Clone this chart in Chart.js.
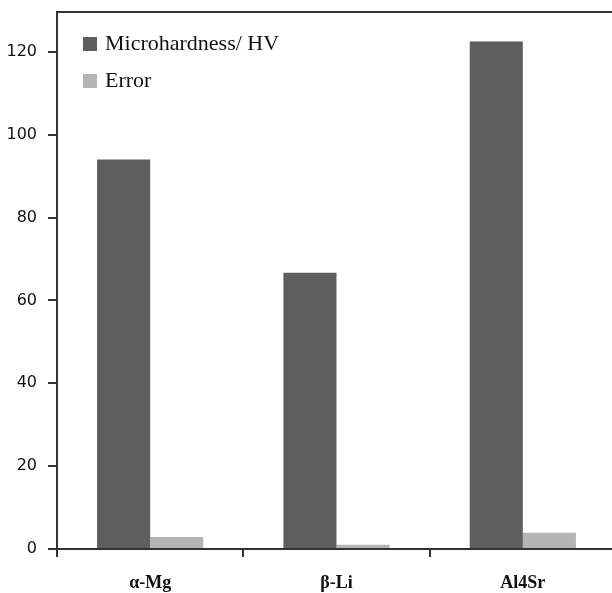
<!DOCTYPE html>
<html>
<head>
<meta charset="utf-8">
<script src="https://cdn.jsdelivr.net/npm/chart.js@4.4.1/dist/chart.umd.min.js"></script>
<style>
  html, body { margin: 0; padding: 0; background: #fff; overflow: hidden; }
  #wrap { width: 612px; height: 593px; overflow: hidden; position: relative; }
  #box { width: 616px; height: 593px; position: absolute; left: 0; top: 0; }
</style>
</head>
<body>
<div id="wrap"><div id="box"><canvas id="c"></canvas></div></div>
<script>
const categories = ['α-Mg', 'β-Li', 'Al4Sr'];
const microhardness = [94, 66.7, 122.5];
const errorValues = [2.9, 1.0, 3.9];
const yTicks = [0, 20, 40, 60, 80, 100, 120];

const darkColor = '#5e5e5e';
const lightColor = '#b5b5b5';

const frameAndLegend = {
  id: 'frameAndLegend',
  afterDraw(chart) {
    const ctx = chart.ctx;
    const a = chart.chartArea;
    ctx.save();
    ctx.strokeStyle = '#333';
    ctx.lineWidth = 2;
    ctx.beginPath();
    ctx.moveTo(a.left - 1, a.top);
    ctx.lineTo(a.right + 2, a.top);
    ctx.stroke();
    // legend
    const x0 = a.left + 26, y0 = a.top + 25, gap = 37;
    chart.data.datasets.forEach((ds, i) => {
      const y = y0 + i * gap;
      ctx.fillStyle = ds.backgroundColor;
      ctx.fillRect(x0, y, 14, 14);
      ctx.fillStyle = '#111';
      ctx.font = '22px "Liberation Serif"';
      ctx.textBaseline = 'middle';
      ctx.fillText(ds.label, x0 + 22, y + 7);
    });
    ctx.restore();
  }
};

new Chart(document.getElementById('c'), {
  type: 'bar',
  data: {
    labels: categories,
    datasets: [
      { label: 'Microhardness/ HV', data: microhardness, backgroundColor: darkColor, borderWidth: 0 },
      { label: 'Error', data: errorValues, backgroundColor: lightColor, borderWidth: 0 }
    ]
  },
  plugins: [frameAndLegend],
  options: {
    responsive: true,
    maintainAspectRatio: false,
    animation: false,
    devicePixelRatio: 1,
    layout: { padding: { top: 12, right: 0, left: 0, bottom: 0 } },
    plugins: { legend: { display: false }, tooltip: { enabled: false } },
    datasets: { bar: { categoryPercentage: 0.57, barPercentage: 1.0 } },
    scales: {
      x: {
        offset: true,
        grid: { display: true, offset: true, drawOnChartArea: false, drawTicks: true, tickLength: 8, color: '#333', lineWidth: 2 },
        border: { display: true, color: '#333', width: 2 },
        ticks: { color: '#111', font: { family: '"Liberation Serif"', size: 18, weight: 'bold' }, padding: 16 },
        afterFit(scale) { scale.height = 44; scale.paddingLeft = 0; scale.paddingRight = 0; }
      },
      y: {
        min: 0, max: 129.6,
        afterBuildTicks(scale) { scale.ticks = yTicks.map(v => ({ value: v })); },
        grid: { display: true, drawOnChartArea: false, drawTicks: true, tickLength: 9, color: '#333', lineWidth: 2 },
        border: { display: true, color: '#333', width: 2 },
        ticks: { color: '#111', font: { family: '"DejaVu Sans"', size: 16 }, padding: 11 },
        afterFit(scale) { scale.width = 57; scale.paddingTop = 0; scale.paddingBottom = 0; }
      }
    }
  }
});
</script>
</body>
</html>
